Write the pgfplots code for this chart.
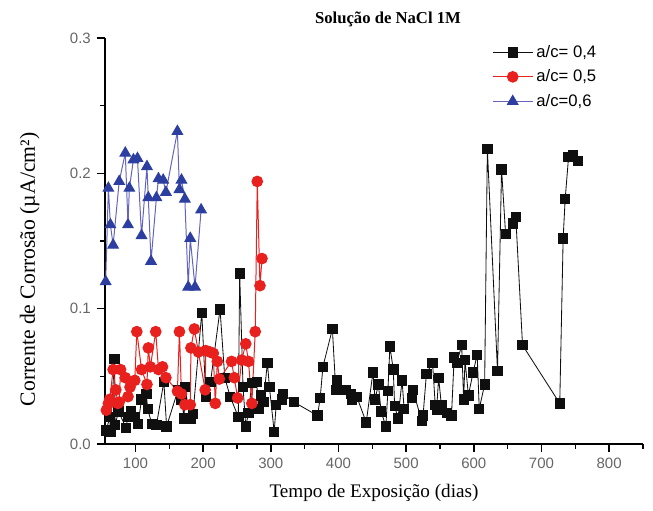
\documentclass[border=0pt]{standalone}
\usepackage{fontspec}
\setmainfont{Liberation Serif}
\newfontfamily\arial{Liberation Sans}
\usepackage{pgfplots}
\pgfplotsset{compat=1.18}
\definecolor{cblk}{RGB}{15,15,15}
\definecolor{cred}{RGB}{232,32,30}
\definecolor{cblue}{RGB}{44,62,160}
\definecolor{cbluel}{RGB}{100,100,190}
\begin{document}
\begin{tikzpicture}
\useasboundingbox (-63pt,-40.2pt) rectangle (328.8pt,266.4pt);
\begin{axis}[
  scale only axis, width=322.8pt, height=243.6pt,
  xmin=55, xmax=850, ymin=0, ymax=0.3,
  axis x line*=bottom, axis y line*=left,
  axis line style={-, line width=1.1pt},
  tick align=outside,
  xtick={100,200,...,800}, minor xtick={150,250,...,850},
  ytick={0,0.1,0.2,0.3}, minor ytick={0.05,0.15,0.25},
  major tick length=5pt, minor tick length=3pt,
  tick style={line width=0.9pt, black},
  ticklabel style={font=\arial\fontsize{9}{10}\selectfont, text=black!60},
  /pgf/number format/assume math mode=true,
  yticklabel style={/pgf/number format/.cd, fixed, fixed zerofill, precision=1},
  xticklabel style={/pgf/number format/1000 sep=},
  title={\textbf{Solução de NaCl 1M}},
  title style={font=\fontsize{10}{12}\selectfont, at={(axis description cs:0.526,1.02)}, anchor=center},
  xlabel={Tempo de Exposição (dias)},
  xlabel style={font=\fontsize{11.5}{13}\selectfont, at={(axis description cs:0.5,-0.12)}, anchor=center},
  ylabel={Corrente de Corrosão (µA/cm²)},
  ylabel style={font=\fontsize{13}{15}\selectfont, at={(axis description cs:-0.14,0.43)}, anchor=center},
  legend style={draw=none, fill=none, at={(axis description cs:0.71,1.0)}, anchor=north west,
    font=\arial\fontsize{10}{12}\selectfont, row sep=2pt},
  legend cell align=left,
  legend image code/.code={\draw[mark repeat=2,mark phase=2] plot coordinates {(0cm,0cm) (0.42cm,0cm) (0.84cm,0cm)};},
]
\addplot[color=cblk, line width=0.5pt, mark=square*, mark size=2.8pt, mark options={fill=cblk}] coordinates {
(57,0.010) (62,0.020) (63,0.009) (69,0.063) (70,0.014) (75,0.024) (86,0.012) (89,0.020)
(93,0.024) (99,0.020) (104,0.015) (109,0.033) (116,0.037) (118,0.026) (124,0.015) (131,0.014)
(142,0.046) (146,0.013) (163,0.040) (168,0.033) (172,0.019) (173,0.042) (181,0.019) (185,0.022)
(198,0.097) (204,0.035) (211,0.046) (225,0.0995) (232,0.049) (240,0.035) (252,0.020) (254,0.126)
(259,0.042) (263,0.013) (267,0.023) (272,0.045) (279,0.046) (282,0.026) (285,0.036) (289,0.031)
(295,0.060) (298,0.042) (305,0.009) (308,0.029) (316,0.033) (318,0.037) (334,0.031) (369,0.021)
(373,0.034) (377,0.057) (391,0.085) (396,0.040) (398,0.047) (411,0.040) (418,0.037) (420,0.033)
(427,0.035) (441,0.016) (451,0.053) (454,0.033) (459,0.044) (463,0.024) (470,0.013) (473,0.039)
(476,0.072) (481,0.055) (483,0.028) (488,0.019) (494,0.047) (497,0.026) (509,0.034) (510,0.040)
(523,0.017) (525,0.021) (530,0.052) (539,0.060) (543,0.029) (545,0.025) (548,0.049) (552,0.029)
(560,0.023) (567,0.021) (571,0.064) (575,0.060) (582,0.073) (585,0.033) (587,0.062) (592,0.036)
(599,0.053) (605,0.066) (608,0.026) (616,0.044) (620,0.218) (635,0.054) (641,0.203) (647,0.155)
(658,0.163) (662,0.168) (672,0.073) (727,0.030) (732,0.152) (735,0.181) (740,0.212) (746,0.2135)
(754,0.209)
};
\addlegendentry{a/c= 0,4}
\addplot[color=cred, line width=0.6pt, mark=*, mark size=3.2pt, mark options={fill=cred}] coordinates {
(57,0.025) (60,0.030) (62,0.033) (67,0.055) (71,0.040) (74,0.030) (76,0.031) (78,0.055)
(85,0.049) (89,0.035) (92,0.042) (99,0.047) (102,0.083) (109,0.055) (117,0.044) (119,0.071)
(122,0.057) (130,0.083) (134,0.055) (140,0.057) (145,0.049) (162,0.039) (165,0.083) (168,0.037)
(173,0.029) (181,0.029) (182,0.071) (187,0.085) (193,0.068) (203,0.040) (204,0.069) (210,0.068)
(215,0.067) (218,0.030) (221,0.061) (224,0.048) (242,0.061) (246,0.049) (251,0.034) (257,0.062)
(263,0.074) (267,0.061) (272,0.030) (277,0.083) (280,0.194) (284,0.117) (287,0.137)
};
\addlegendentry{a/c= 0,5}
\addplot[color=cbluel, line width=0.6pt, mark=triangle*, mark size=3.6pt, mark options={draw=cblue, fill=cblue}] coordinates {
(56,0.120) (60,0.189) (63,0.162) (67,0.147) (76,0.194) (85,0.215) (89,0.162) (91,0.189)
(97,0.210) (103,0.211) (109,0.154) (117,0.205) (119,0.182) (123,0.135) (131,0.182) (134,0.196)
(141,0.195) (145,0.186) (162,0.231) (165,0.188) (168,0.195) (173,0.181) (178,0.116) (181,0.152)
(188,0.116) (197,0.173)
};
\addlegendentry{a/c=0,6}
\end{axis}
\end{tikzpicture}
\end{document}
